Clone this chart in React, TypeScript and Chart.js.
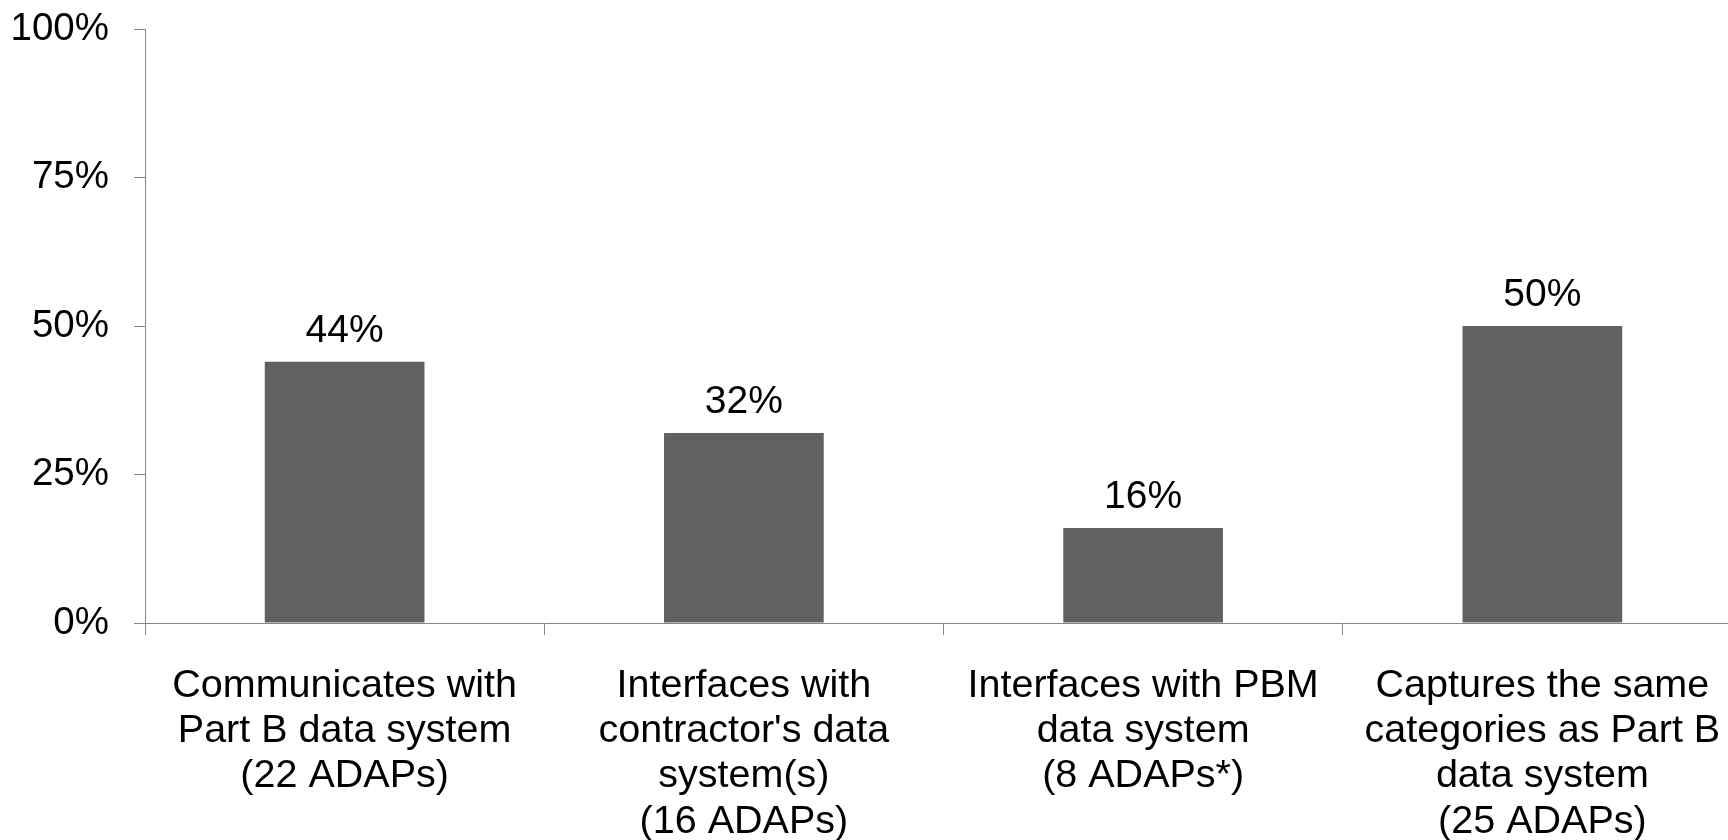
import React, { useEffect, useRef } from "react";
import { Chart, registerables } from "chart.js";

Chart.register(...registerables);

const categories: string[][] = [
  ["Communicates with", "Part B data system", "(22 ADAPs)"],
  ["Interfaces with", "contractor's data", "system(s)", "(16 ADAPs)"],
  ["Interfaces with PBM", "data system", "(8 ADAPs*)"],
  ["Captures the same", "categories as Part B", "data system", "(25 ADAPs)"],
];
const values: number[] = [44, 32, 16, 50];
const yTicks: number[] = [0, 25, 50, 75, 100];

const FONT = "'Liberation Sans', Arial, sans-serif";
const AXIS = "#868686";
const BAR = "#616161";

const CANVAS_W = 1752;
const CANVAS_H = 850;

const dataLabelPlugin = {
  id: "dataLabels",
  afterDatasetsDraw(chart: any) {
    const ctx = chart.ctx;
    const meta = chart.getDatasetMeta(0);
    ctx.save();
    ctx.font = `39px ${FONT}`;
    ctx.fillStyle = "#000";
    ctx.textAlign = "center";
    ctx.textBaseline = "alphabetic";
    meta.data.forEach((bar: any, i: number) => {
      ctx.fillText(`${values[i]}%`, bar.x, bar.y - 20);
    });
    ctx.restore();
  },
};

export default function App() {
  const ref = useRef<HTMLCanvasElement | null>(null);
  useEffect(() => {
    if (!ref.current) return;
    const chart = new Chart(ref.current, {
      type: "bar",
      data: {
        labels: categories,
        datasets: [
          {
            data: values,
            backgroundColor: BAR,
            borderWidth: 0,
            barPercentage: 0.4,
            categoryPercentage: 1,
          },
        ],
      },
      options: {
        responsive: false,
        animation: false,
        devicePixelRatio: 1,
        layout: { padding: { left: 0, right: 10, top: 29, bottom: 0 } },
        plugins: { legend: { display: false }, tooltip: { enabled: false } },
        scales: {
          x: {
            afterFit: (s: any) => {
              s.height = 227;
              s.paddingLeft = 0;
              s.paddingRight = 0;
              s.paddingTop = 0;
              s.paddingBottom = 0;
            },
            grid: {
              offset: true,
              drawOnChartArea: false,
              drawTicks: true,
              tickLength: 12,
              color: AXIS,
            },
            border: { display: true, color: AXIS, width: 1 },
            ticks: {
              color: "#000",
              padding: 28,
              maxRotation: 0,
              autoSkip: false,
              font: { family: FONT, size: 39.5, lineHeight: 1.15 },
            },
          },
          y: {
            min: 0,
            max: 100,
            afterBuildTicks: (axis: any) => {
              axis.ticks = yTicks.map((v) => ({ value: v }));
            },
            afterFit: (s: any) => {
              s.width = 145;
              s.paddingTop = 0;
              s.paddingBottom = 0;
              s.paddingLeft = 0;
              s.paddingRight = 0;
            },
            grid: {
              drawOnChartArea: false,
              drawTicks: true,
              tickLength: 11,
              color: AXIS,
            },
            border: { display: true, color: AXIS, width: 1 },
            ticks: {
              color: "#000",
              padding: 25,
              callback: (v: any) => `${v}%`,
              font: { family: FONT, size: 38.5, lineHeight: 1.2 },
            },
          },
        },
      },
      plugins: [dataLabelPlugin],
    });
    return () => chart.destroy();
  }, []);
  return (
    <div
      style={{
        position: "fixed",
        left: 0,
        top: 0,
        width: 1728,
        height: 840,
        overflow: "hidden",
        background: "#fff",
      }}
    >
      <canvas
        ref={ref}
        width={CANVAS_W}
        height={CANVAS_H}
        style={{ width: CANVAS_W, height: CANVAS_H, display: "block" }}
      />
    </div>
  );
}
